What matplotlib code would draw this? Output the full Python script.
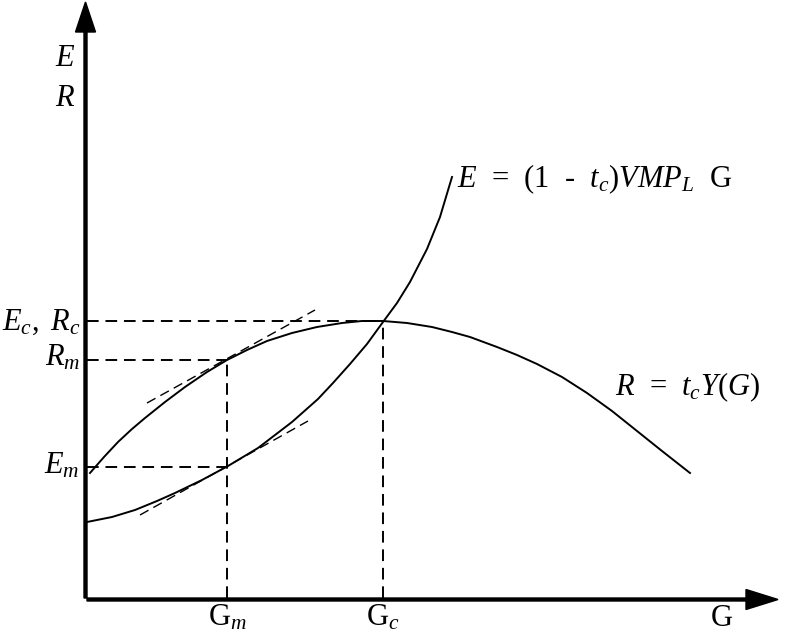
# Diagrama E/R frente a G
import matplotlib
matplotlib.use('Agg')
import matplotlib.pyplot as plt

plt.rcParams['mathtext.fontset'] = 'custom'
plt.rcParams['mathtext.rm'] = 'Liberation Serif'
plt.rcParams['mathtext.it'] = 'Liberation Serif:italic'
plt.rcParams['font.family'] = ['Liberation Serif', 'DejaVu Serif']

# curva R = t_c Y(G)
g_r = [3, 17, 31, 45, 58, 78, 98, 120, 140, 160, 180, 205, 230, 255, 275, 296,
       320, 345, 365, 383, 410, 430, 450, 475, 500, 525, 550, 575, 603]
r_vals = [125, 141, 156, 169, 180, 196, 211, 226, 238, 248, 257, 265, 271, 275, 277, 277,
          275, 271, 266, 261, 251, 243, 234, 221, 205, 187, 167, 147, 125]

# curva E = (1 - t_c) VMP_L G
g_e = [0, 25, 48, 70, 88, 115, 141, 171, 205, 231, 246, 263, 280, 296,
       310, 323, 340, 353, 365]
e_vals = [76, 81, 88, 97, 105, 118, 132, 150, 176, 199, 215, 234, 254, 276,
          295, 316, 349, 381, 421]

# puntos marcados
g_m, g_c = 140, 296
r_c, r_m, e_m = 277, 238, 131

# tangentes en G_m
tan_r_g = [60, 228]
tan_r_v = [195, 288]
tan_e_g = [53, 221]
tan_e_v = [83, 177]

fig = plt.figure(figsize=(7.88, 6.34), dpi=100)
ax = fig.add_axes([0, 0, 1, 1])
ax.set_xlim(-87, 701)
ax.set_ylim(-36, 598)
ax.axis('off')

# ejes con flechas
ax.arrow(0, -1.5, 691, 0, width=3, head_width=20, head_length=32,
         length_includes_head=True, color='black')
ax.arrow(-1.5, 0, 0, 596, width=3, head_width=20, head_length=30,
         length_includes_head=True, color='black')

ax.plot(g_r, r_vals, color='black', lw=1.4)
ax.plot(g_e, e_vals, color='black', lw=1.4)

dash = (0, (6, 3.5))
ax.plot([0, g_c], [r_c, r_c], color='black', lw=1.4, ls=dash)
ax.plot([0, g_m], [r_m, r_m], color='black', lw=1.4, ls=dash)
ax.plot([0, g_m], [e_m, e_m], color='black', lw=1.4, ls=dash)
ax.plot([g_m, g_m], [0, r_m], color='black', lw=1.4, ls=dash)
ax.plot([g_c, g_c], [0, r_c], color='black', lw=1.4, ls=dash)

ax.plot(tan_r_g, tan_r_v, color='black', lw=1.0, ls=(0, (7, 4)))
ax.plot(tan_e_g, tan_e_v, color='black', lw=1.0, ls=(0, (7, 4)))

fs = 22
ax.text(-22, 540, '$E$', fontsize=fs, ha='center', va='center')
ax.text(-22, 500, '$R$', fontsize=fs, ha='center', va='center')
ax.text(-7, 268, '$E_c,\\ R_c$', fontsize=fs, ha='right', va='baseline')
ax.text(-7, 232, '$R_m$', fontsize=fs, ha='right', va='baseline')
ax.text(-7, 125, '$E_m$', fontsize=fs, ha='right', va='baseline')
ax.text(g_m, -28, '$\\mathrm{G}_m$', fontsize=fs, ha='center', va='baseline')
ax.text(g_c, -28, '$\\mathrm{G}_c$', fontsize=fs, ha='center', va='baseline')
ax.text(635, -28, '$\\mathrm{G}$', fontsize=fs, ha='center', va='baseline')
ax.text(370, 411, '$E$  =  (1  -  $t_c$)$VMP_L$  G', fontsize=fs,
        ha='left', va='baseline')
ax.text(528, 203, '$R$  =  $t_cY(G)$', fontsize=fs, ha='left', va='baseline')

fig.savefig('out.png', dpi=100)
